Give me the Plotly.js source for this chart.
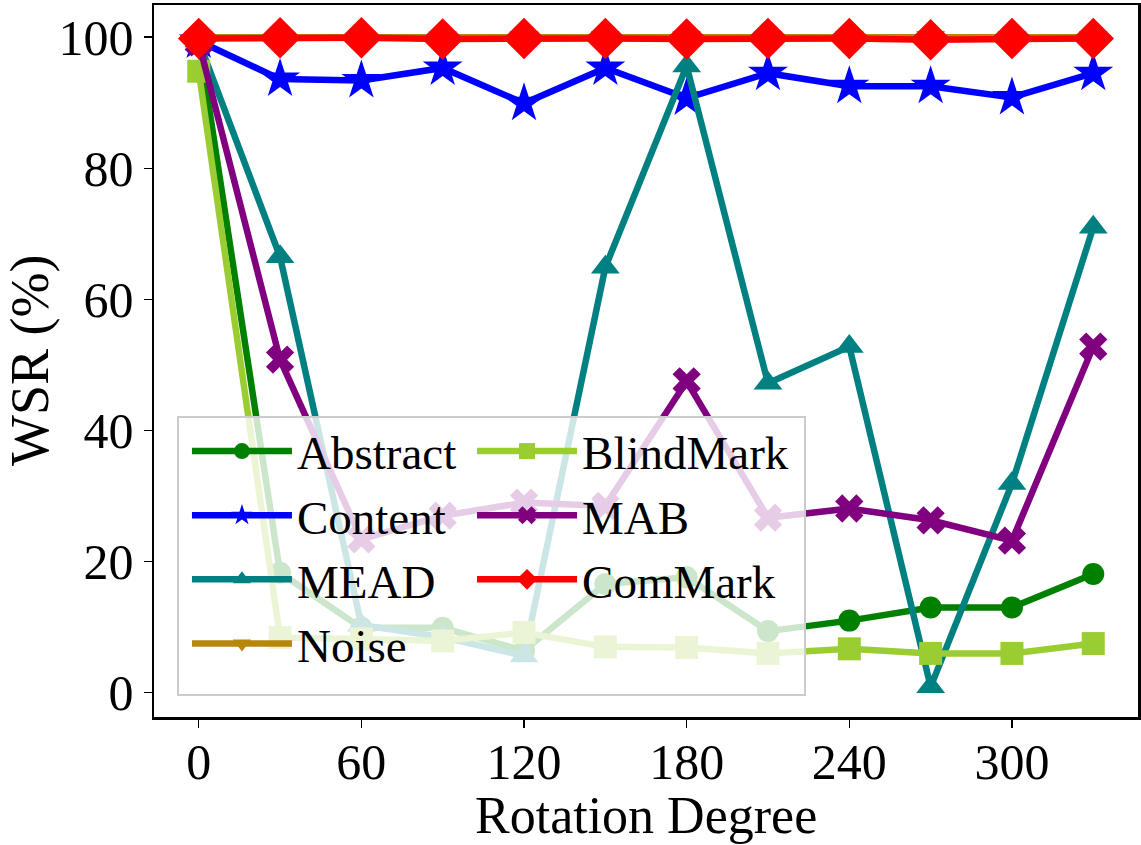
<!DOCTYPE html>
<html>
<head>
<meta charset="utf-8">
<script src="https://cdn.plot.ly/plotly-3.0.1.min.js"></script>
<style>html,body{margin:0;padding:0;background:#fff}#chart{width:1141px;height:845px}</style>
</head>
<body>
<div id="chart"></div>
<script>
const rotation = [0, 30, 60, 90, 120, 150, 180, 210, 240, 270, 300, 330];
const abstractVals  = [99.6, 18.3, 9.9, 9.9, 6.4, 16.6, 17.6, 9.4, 11.0, 13.0, 13.0, 18.1];
const contentVals   = [99.4, 93.6, 93.4, 95.3, 89.9, 95.3, 90.7, 94.5, 92.5, 92.5, 90.8, 94.5];
const meadVals      = [99.4, 66.5, 10.3, 8.5, 5.6, 64.9, 95.6, 47.2, 52.8, 0.9, 31.9, 71.0];
const noiseVals     = [100, 100, 100, 99.9, 100, 100, 100, 100, 100, 100, 100, 100];
const blindmarkVals = [94.8, 8.4, 8.2, 7.9, 9.2, 7.0, 6.9, 6.0, 6.7, 6.0, 6.0, 7.5];
const mabVals       = [99.2, 50.8, 23.4, 27.0, 29.0, 28.5, 47.5, 26.7, 28.1, 26.3, 23.2, 52.8];
const commarkVals   = [99.8, 99.9, 99.9, 99.7, 99.8, 99.8, 99.7, 99.8, 99.8, 99.6, 99.8, 99.8];
const xTicks = [0, 60, 120, 180, 240, 300];
const yTicks = [0, 20, 40, 60, 80, 100];
const xTitle = 'Rotation Degree';
const yTitle = 'WSR (%)';

const FONT = 'Liberation Serif, Times New Roman, serif';

function tr(name, y, color, symbol, size, legendId) {
  return {
    x: rotation, y: y, name: name, type: 'scatter', mode: 'lines+markers',
    line: {color: color, width: 6.5},
    marker: {color: color, symbol: symbol, size: size, line: {width: 0}},
    legend: legendId
  };
}

const data = [
  tr('Abstract', abstractVals, '#008000', 'circle', 22, 'legend'),
  tr('Content', contentVals, '#0000ff', 'star', 30, 'legend'),
  tr('MEAD', meadVals, '#008080', 'triangle-up', 25, 'legend'),
  tr('Noise', noiseVals, '#b8860b', 'triangle-down', 25, 'legend'),
  tr('BlindMark', blindmarkVals, '#9acd32', 'square', 23, 'legend2'),
  tr('MAB', mabVals, '#800080', 'x', 25, 'legend2'),
  tr('ComMark', commarkVals, '#ff0000', 'diamond', 32, 'legend2')
];

const legendCommon = {
  orientation: 'v', xanchor: 'left', yanchor: 'top',
  bgcolor: 'rgba(0,0,0,0)', borderwidth: 0,
  font: {family: FONT, size: 47, color: '#000'},
  itemwidth: 100, traceorder: 'normal', tracegroupgap: 0
};

const layout = {
  width: 1141, height: 845,
  margin: {l: 154, r: 3, t: 5, b: 128},
  paper_bgcolor: '#fff', plot_bgcolor: '#fff',
  font: {family: FONT, color: '#000', size: 50},
  showlegend: true,
  legend: Object.assign({}, legendCommon, {x: 0.0335, y: 0.4255}),
  legend2: Object.assign({}, legendCommon, {x: 0.3232, y: 0.4255}),
  shapes: [{
    type: 'rect', xref: 'paper', yref: 'paper', layer: 'above',
    x0: 0.0244, x1: 0.6616, y0: 0.031, y1: 0.4213,
    fillcolor: 'rgba(255,255,255,0.8)', line: {color: '#cccccc', width: 2}
  }],
  annotations: [
    {text: xTitle, xref: 'paper', yref: 'paper', x: 0.5, y: 0, xanchor: 'center', yanchor: 'middle',
     yshift: -98, showarrow: false, font: {family: FONT, size: 52, color: '#000'}},
    {text: yTitle, xref: 'paper', yref: 'paper', x: 0, y: 0.5, xanchor: 'center', yanchor: 'middle',
     xshift: -124, textangle: -90, showarrow: false, font: {family: FONT, size: 54, color: '#000'}}
  ],
  xaxis: {
    range: [-16.5, 346.5], tickvals: xTicks, ticktext: xTicks.map(String),
    showgrid: false, zeroline: false, showline: true, mirror: true,
    linecolor: '#000', linewidth: 2.5, ticks: 'outside', ticklen: 8, tickwidth: 1.5, tickcolor: '#000',
    tickfont: {family: FONT, size: 50}, ticklabelstandoff: -9
  },
  yaxis: {
    range: [-3.7, 104.9], tickvals: yTicks, ticktext: yTicks.map(String),
    showgrid: false, zeroline: false, showline: true, mirror: true,
    linecolor: '#000', linewidth: 2.5, ticks: 'outside', ticklen: 8, tickwidth: 1.5, tickcolor: '#000',
    tickfont: {family: FONT, size: 50}
  }
};

Plotly.newPlot('chart', data, layout, {displayModeBar: false, staticPlot: true});
</script>
</body>
</html>
